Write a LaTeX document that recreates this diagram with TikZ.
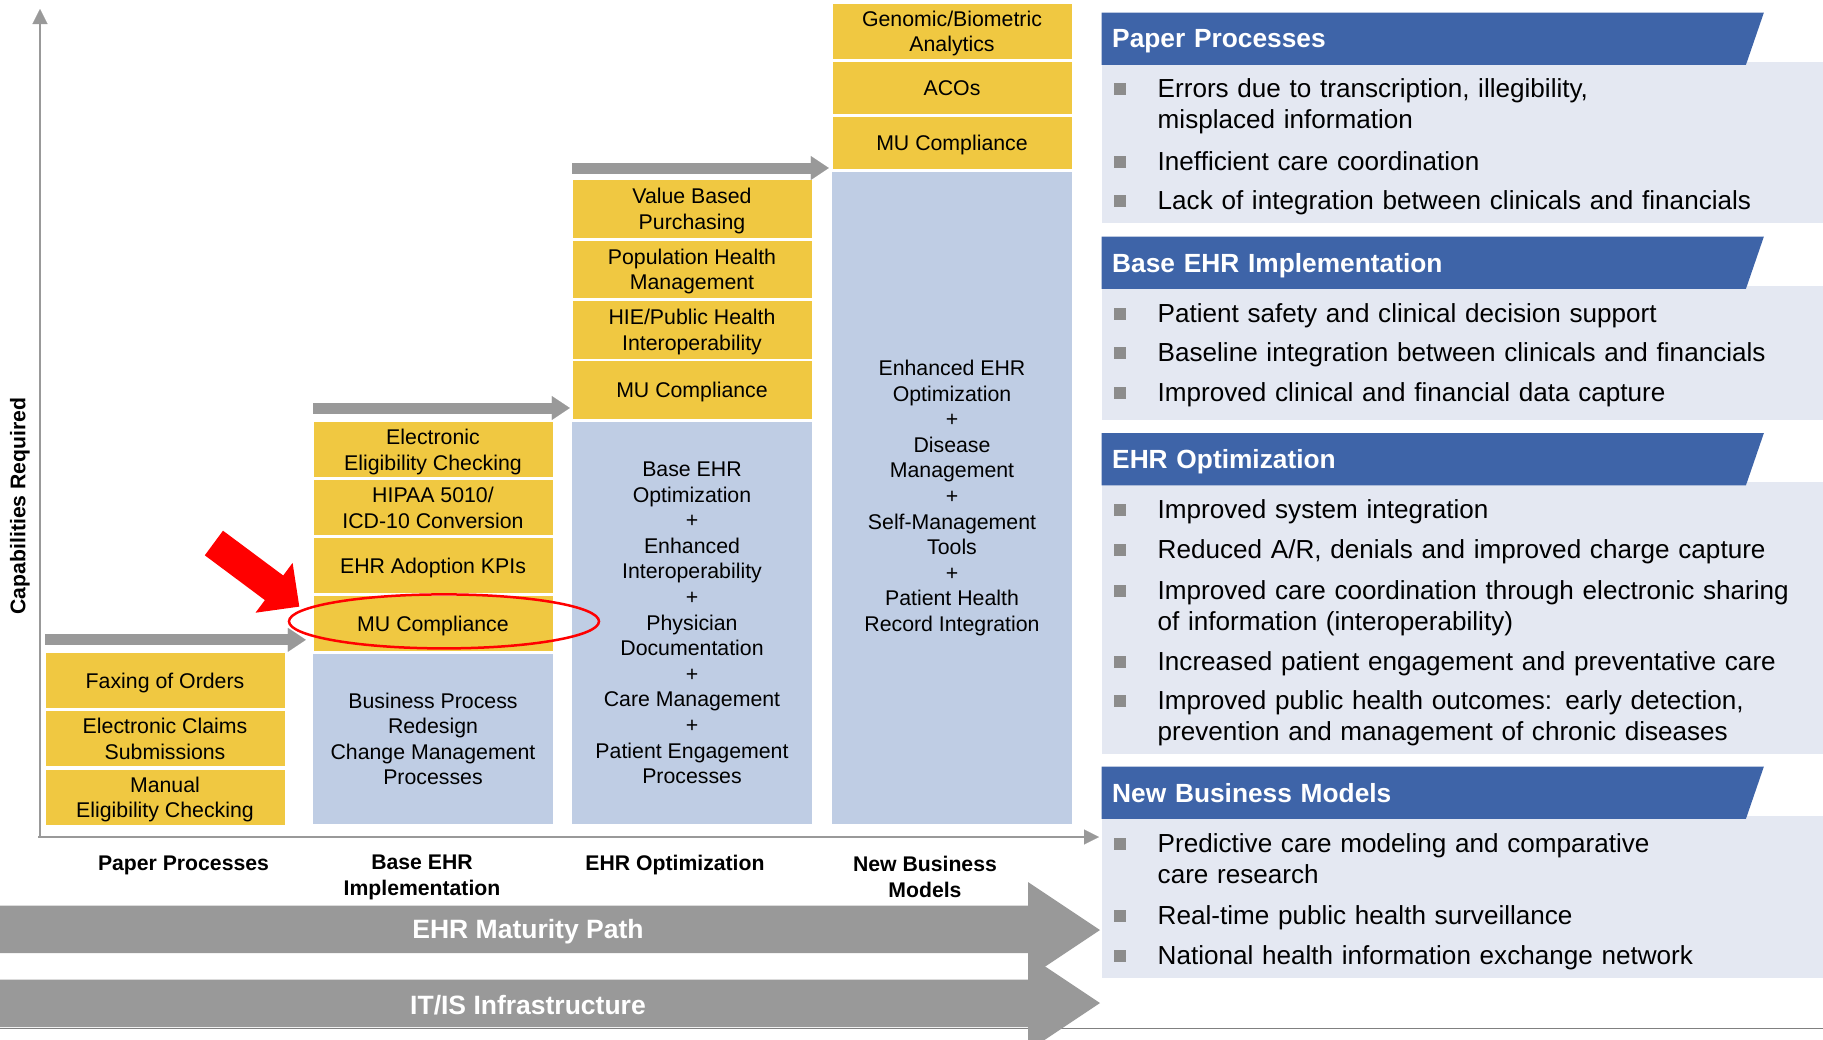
\documentclass[tikz,border=0pt]{standalone}
\usepackage{fontspec}
\setmainfont{Liberation Sans}
\usepackage{tikz}
\usetikzlibrary{arrows.meta, positioning, calc, backgrounds}

\definecolor{capyellow}{RGB}{240,200,65}
\definecolor{baseblue}{RGB}{191,205,228}
\definecolor{hdrblue}{RGB}{62,100,168}
\definecolor{panelbg}{RGB}{228,232,242}
\definecolor{stepgray}{RGB}{153,153,153}
\definecolor{bulgray}{RGB}{140,140,140}

\begin{document}
\begin{tikzpicture}[
    x=1pt, y=-1pt,
    capbox/.style={rectangle, fill=capyellow, minimum width=239pt, minimum height=55pt, inner sep=0pt, text depth=-3.5pt, align=center, font=\fontsize{21.3}{25.6}\selectfont},
    basebox/.style={rectangle, fill=baseblue, minimum width=240pt, inner sep=0pt, align=center, anchor=south, font=\fontsize{21.3}{25.6}\selectfont},
    steparrow/.style={draw=stepgray, line width=11pt, -{Triangle[width=24pt, length=18pt, line width=0.1pt]}},
    axisline/.style={draw=stepgray, line width=2.5pt, -{Triangle[width=15pt, length=15pt, line width=0.1pt]}},
    axislabel/.style={align=center, inner sep=0pt, font=\fontsize{21.2}{25.4}\selectfont\bfseries},
    hdr/.style={anchor=north west, minimum height=52pt, text width=641pt, inner xsep=10.5pt, inner ysep=0pt, text depth=0pt, align=left, text=white, font=\fontsize{26.3}{30}\selectfont\bfseries},
    bultext/.style={anchor=base west, text width=660pt, inner sep=0pt, align=left, font=\fontsize{26.1}{31.5}\selectfont},
    bulsq/.style={rectangle, fill=bulgray, minimum size=12pt, inner sep=0pt},
    bandtext/.style={text=white, font=\fontsize{26.5}{30}\selectfont\bfseries},
    hilite/.style={draw=red, line width=2.5pt}
]
    \useasboundingbox (0,0) rectangle (1823,1039);

    % Paper processes
    \node[capbox] (fax) at (165,680.5) {Faxing of Orders};
    \node[capbox, below=3pt of fax] (claims) {Electronic Claims\\Submissions};
    \node[capbox, below=3pt of claims] (manual) {Manual\\Eligibility Checking};

    % Base EHR implementation
    \node[basebox, minimum height=170pt] (bpr) at (433,824) {Business Process\\Redesign\\Change Management\\Processes};
    \node[capbox, above=2.5pt of bpr] (mua) {MU Compliance};
    \node[capbox, above=2.5pt of mua] (kpi) {EHR Adoption KPIs};
    \node[capbox, above=2.5pt of kpi] (hipaa) {HIPAA 5010/\\ICD-10 Conversion};
    \node[capbox, above=2.5pt of hipaa] (elig) {Electronic\\Eligibility Checking};

    % EHR optimization
    \node[basebox, minimum height=402pt] (opt) at (692,824) {Base EHR\\Optimization\\+\\Enhanced\\Interoperability\\+\\Physician\\Documentation\\+\\Care Management\\+\\Patient Engagement\\Processes};
    \node[capbox, minimum height=57.5pt, above=2.5pt of opt] (mub) {MU Compliance};
    \node[capbox, minimum height=57.5pt, above=2.5pt of mub] (hie) {HIE/Public Health\\Interoperability};
    \node[capbox, minimum height=57.5pt, above=2.5pt of hie] (pop) {Population Health\\Management};
    \node[capbox, minimum height=57.5pt, above=2.5pt of pop] (vbp) {Value Based\\Purchasing};

    % New business models
    \node[basebox, minimum height=651.5pt] (enh) at (952,824) {Enhanced EHR\\Optimization\\+\\Disease\\Management\\+\\Self-Management\\Tools\\+\\Patient Health\\Record Integration};
    \node[capbox, minimum height=52.5pt, above=2.5pt of enh] (muc) {MU Compliance};
    \node[capbox, minimum height=52.5pt, above=2.5pt of muc] (aco) {ACOs};
    \node[capbox, above=2.5pt of aco] (gen) {Genomic/Biometric\\Analytics};

    % Steps between the stages
    \draw[steparrow] ($(fax.north west)+(0,-13)$) -- ($(fax.north west -| bpr.west)+(-7,-13)$);
    \draw[steparrow] ($(elig.north west)+(0,-14)$) -- ($(elig.north west -| vbp.west)+(-2.5,-14)$);
    \draw[steparrow] ($(vbp.north west)+(0,-12)$) -- ($(vbp.north west -| gen.west)+(-3.5,-12)$);

    % Axes
    \coordinate (org) at (40,837);
    \coordinate (ytop) at (40,9);
    \coordinate (xend) at (1099,837);
    \draw[axisline] (org) -- (ytop);
    \draw[axisline] ([xshift=-2pt]org) -- (xend);
    \node[axislabel, rotate=90] (ylab) at (20,506) {Capabilities Required};
    \node[axislabel] (lpp) at (183.5,865) {Paper Processes};
    \node[axislabel] (lbe) at (422,877.5) {Base EHR\\Implementation};
    \node[axislabel] (leo) at (675,865) {EHR Optimization};
    \node[axislabel] (lnb) at (925,877) {New Business\\Models};

    % Highlight on MU compliance
    \draw[hilite] ($(mua.center)+(11,-2)$) ellipse [x radius=155pt, y radius=27pt];
    \fill[red] (223,530.7) -- (283.2,575.5) -- (292.6,562.9) -- (299.3,606.6) -- (255.5,612.7) -- (264.9,600.1) -- (204.8,555.3) -- cycle;

    % Maturity bands
    \draw[gray, line width=1.5pt] (0,1028.5) -- (1823,1028.5);
    \fill[stepgray] (0,905.5) -- (1028,905.5) -- (1028,882) -- (1100,930) -- (1028,978) -- (1028,953) -- (0,953) -- cycle;
    \fill[stepgray] (0,979.5) -- (1028,979.5) -- (1028,955) -- (1100,1003) -- (1028,1051) -- (1028,1027) -- (0,1027) -- cycle;
    \node[bandtext] (path) at (528,932) {EHR Maturity Path};
    \node[bandtext] (infra) at (528,1005.5) {IT/IS Infrastructure};

    % Stage headers
    \node[hdr] (hpp) at (1101.5,12.5) {Paper Processes};
    \node[hdr] (hbe) at (1101.5,236.5) {Base EHR Implementation};
    \node[hdr] (heo) at (1101.5,433) {EHR Optimization};
    \node[hdr] (hnb) at (1101.5,766.5) {New Business Models};

    \begin{scope}[on background layer]
        \fill[panelbg] ($(hpp.south west)+(0,-3)$) rectangle (1823,222.7);
        \fill[panelbg] ($(hbe.south west)+(0,-3)$) rectangle (1823,419.7);
        \fill[panelbg] ($(heo.south west)+(0,-3)$) rectangle (1823,753.7);
        \fill[panelbg] ($(hnb.south west)+(0,-3)$) rectangle (1823,977.7);
        \fill[hdrblue] (hpp.north west) -- (hpp.north east) -- ([xshift=-18pt]hpp.south east) -- (hpp.south west) -- cycle;
        \fill[hdrblue] (hbe.north west) -- (hbe.north east) -- ([xshift=-18pt]hbe.south east) -- (hbe.south west) -- cycle;
        \fill[hdrblue] (heo.north west) -- (heo.north east) -- ([xshift=-18pt]heo.south east) -- (heo.south west) -- cycle;
        \fill[hdrblue] (hnb.north west) -- (hnb.north east) -- ([xshift=-18pt]hnb.south east) -- (hnb.south west) -- cycle;
    \end{scope}

    % Paper processes points
    \node[bultext] (pp1) at (1157.5,97.3) {Errors due to transcription, illegibility,\\misplaced information};
    \node[bultext] (pp2) at (1157.5,170) {Inefficient care coordination};
    \node[bultext] (pp3) at (1157.5,209) {Lack of integration between clinicals and financials};
    \node[bulsq] (pp1s) at ($(pp1.base west)+(-38,-8.5)$) {};
    \node[bulsq] (pp2s) at ($(pp2.base west)+(-38,-8.5)$) {};
    \node[bulsq] (pp3s) at ($(pp3.base west)+(-38,-8.5)$) {};

    % Base EHR points
    \node[bultext] (be1) at (1157.5,322) {Patient safety and clinical decision support};
    \node[bultext] (be2) at (1157.5,361.6) {Baseline integration between clinicals and financials};
    \node[bultext] (be3) at (1157.5,401) {Improved clinical and financial data capture};
    \node[bulsq] (be1s) at ($(be1.base west)+(-38,-8.5)$) {};
    \node[bulsq] (be2s) at ($(be2.base west)+(-38,-8.5)$) {};
    \node[bulsq] (be3s) at ($(be3.base west)+(-38,-8.5)$) {};

    % EHR optimization points
    \node[bultext] (eo1) at (1157.5,518) {Improved system integration};
    \node[bultext] (eo2) at (1157.5,558) {Reduced A/R, denials and improved charge capture};
    \node[bultext] (eo3) at (1157.5,599) {Improved care coordination through electronic sharing\\of information (interoperability)};
    \node[bultext] (eo4) at (1157.5,670) {Increased patient engagement and preventative care};
    \node[bultext] (eo5) at (1157.5,709) {Improved public health outcomes: early detection,\\prevention and management of chronic diseases};
    \node[bulsq] (eo1s) at ($(eo1.base west)+(-38,-8.5)$) {};
    \node[bulsq] (eo2s) at ($(eo2.base west)+(-38,-8.5)$) {};
    \node[bulsq] (eo3s) at ($(eo3.base west)+(-38,-8.5)$) {};
    \node[bulsq] (eo4s) at ($(eo4.base west)+(-38,-8.5)$) {};
    \node[bulsq] (eo5s) at ($(eo5.base west)+(-38,-8.5)$) {};

    % New business model points
    \node[bultext] (nb1) at (1157.5,852.3) {Predictive care modeling and comparative\\care research};
    \node[bultext] (nb2) at (1157.5,924) {Real-time public health surveillance};
    \node[bultext] (nb3) at (1157.5,964) {National health information exchange network};
    \node[bulsq] (nb1s) at ($(nb1.base west)+(-38,-8.5)$) {};
    \node[bulsq] (nb2s) at ($(nb2.base west)+(-38,-8.5)$) {};
    \node[bulsq] (nb3s) at ($(nb3.base west)+(-38,-8.5)$) {};
\end{tikzpicture}
\end{document}
